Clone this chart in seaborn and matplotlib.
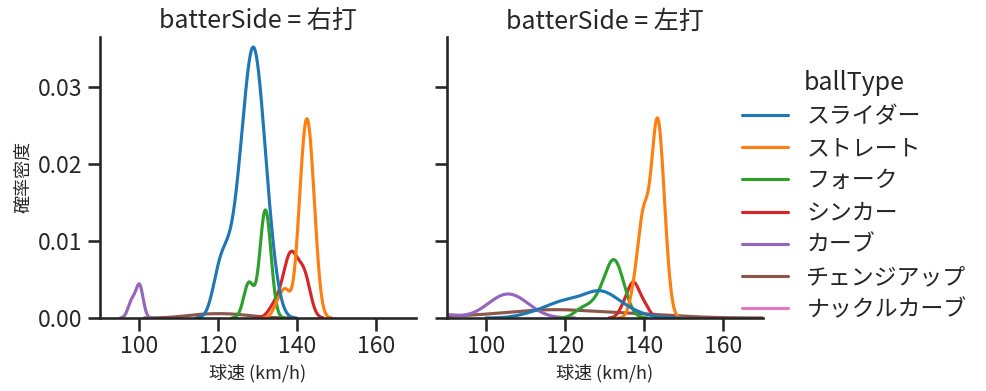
import warnings
import numpy as np
import pandas as pd
import seaborn as sns
import matplotlib
matplotlib.use("Agg")
import matplotlib.pyplot as plt

warnings.filterwarnings("ignore")

ball_types = ["スライダー", "ストレート", "フォーク", "シンカー", "カーブ", "チェンジアップ", "ナックルカーブ"]
sides = ["右打", "左打"]

# ---- 右打 (pitch speeds, km/h) ----
slider_R = [119, 120, 120, 121, 121, 122, 122, 123, 123, 124, 124,
            125, 125, 125, 125, 126, 126, 126, 126, 126,
            127, 127, 127, 127, 127, 127,
            128, 128, 128, 128, 128, 128, 128, 128,
            129, 129, 129, 129, 129, 129, 129, 129, 129,
            130, 130, 130, 130, 130, 130, 130,
            131, 131, 131, 131, 131, 131,
            132, 132, 132, 132, 133, 133, 133, 134, 135]
straight_R = [135, 137, 137, 140, 140, 141, 141, 141, 141,
              142, 142, 142, 142, 142, 142, 142,
              143, 143, 143, 143, 143, 143,
              144, 144, 144, 144, 145]
fork_R = [127, 128, 128, 131, 131, 131, 132, 132, 132, 132, 132, 133, 133]
sinker_R = [134, 136, 137, 138, 138, 138, 139, 139, 140, 141, 142, 142, 142]
curve_R = [98, 100, 100]
changeup_R = [116, 124]
knuckle_R = []

# ---- 左打 ----
slider_L = [112, 117, 119, 120, 121, 125, 127, 128, 128, 129, 130, 131, 133, 137]
straight_L = [137, 138, 139, 139, 139, 140, 140, 140, 140, 141, 141,
              142, 142, 142, 142, 143, 143, 143, 143, 143, 143, 143,
              144, 144, 144, 144, 144, 144, 145, 145, 145, 146]
fork_L = [124, 127, 129, 130, 131, 132, 132, 132, 133, 133, 134, 135]
sinker_L = [135, 137, 137, 138, 140]
curve_L = [88, 101, 103, 104, 105, 106, 107, 108, 110]
changeup_L = [96, 108, 113, 116, 118, 121, 128, 136, 143]
knuckle_L = [103]

groups = {
    "右打": [slider_R, straight_R, fork_R, sinker_R, curve_R, changeup_R, knuckle_R],
    "左打": [slider_L, straight_L, fork_L, sinker_L, curve_L, changeup_L, knuckle_L],
}

rows = []
for side in sides:
    for bt, speeds in zip(ball_types, groups[side]):
        for s in speeds:
            rows.append((side, bt, s))
df = pd.DataFrame(rows, columns=["batterSide", "ballType", "球速"])

sns.set_theme(style="ticks", context="talk")
plt.rcParams["font.family"] = ["Noto Sans CJK JP", "DejaVu Sans"]

g = sns.displot(data=df, x="球速", hue="ballType", col="batterSide", kind="kde",
                hue_order=ball_types, col_order=sides, palette="tab10",
                height=4, aspect=1)
g.set(xlim=(90, 170), ylim=(0, 0.0365))
g.set_axis_labels("球速 (km/h)", "確率密度", fontsize=13)
g.figure.set_size_inches(9.87, 3.91)
g.figure.subplots_adjust(left=0.1013, right=0.773, bottom=0.1867, top=0.9054, wspace=0.098)
sns.move_legend(g, "center left", bbox_to_anchor=(0.731, 0.5), frameon=False,
                labelspacing=0.4)
g.figure.savefig("out.png", dpi=100)
